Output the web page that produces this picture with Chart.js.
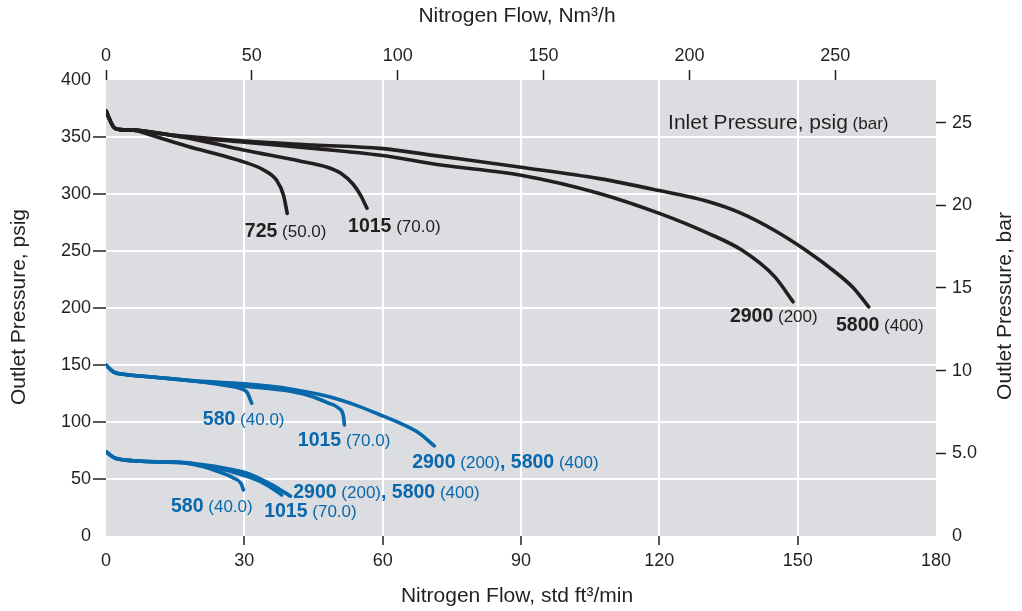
<!DOCTYPE html>
<html><head><meta charset="utf-8">
<script src="https://cdn.jsdelivr.net/npm/chart.js@4.4.0/dist/chart.umd.min.js"></script>
<style>html,body{margin:0;padding:0;background:#fff}</style>
</head><body>
<canvas id="c" width="1022" height="611" style="width:1022px;height:611px;display:block"></canvas>
<script>
// ---- data (x: std ft3/min, y: psig) ----
const blkFlow725  = [0, 1.6, 3, 6, 9.5, 18, 25, 30, 34, 37, 38.5, 39.3];
const blkPsig725  = [373, 359, 356.5, 356, 352, 341.5, 334, 328, 321.5, 312, 299, 283];
const blkFlow1015 = [0, 1.6, 3, 6, 10, 18, 29.8, 42, 48, 51, 53.5, 55.2, 56.6];
const blkPsig1015 = [373, 359, 356.5, 356, 354, 349, 338.5, 329, 323.5, 318, 309, 299, 287.5];
const blkFlow2900 = [0, 1.6, 3, 6, 15, 30, 45, 59.5, 72.6, 90, 107, 120, 130.6, 137.8, 145, 149];
const blkPsig2900 = [373, 359, 356.5, 356, 351, 345.5, 340, 334, 325.5, 316.5, 300.5, 283, 265.5, 251, 227.5, 205.5];
const blkFlow5800 = [0, 1.6, 3, 6, 15, 30, 45, 59.5, 72.6, 90, 107, 120, 130, 137.8, 145, 152, 158, 162, 165.4];
const blkPsig5800 = [373, 359, 356.5, 356, 351.5, 346.5, 343, 340, 333, 323.5, 313.5, 303, 294, 283, 268, 250, 232, 218, 201];

const bluHiFlow580  = [0, 1.6, 3.8, 10, 20, 26, 29, 30.6, 31.6];
const bluHiPsig580  = [150, 144, 141.8, 139.5, 135.5, 132, 129.5, 126, 116.5];
const bluHiFlow1015 = [0, 1.6, 3.8, 10, 20, 30, 40, 45, 48, 50.5, 51.5, 51.7];
const bluHiPsig1015 = [150, 144, 141.8, 139.5, 135.5, 131.5, 127, 122, 117, 112, 105, 97.5];
const bluHiFlow2900 = [0, 1.6, 3.8, 10, 20, 30, 40, 48, 54, 59, 64, 68, 71.2];
const bluHiPsig2900 = [150, 144, 141.8, 139.5, 136, 133.5, 129, 122.5, 115, 107, 98.5, 90, 79];

const bluLoFlow580  = [0, 1.6, 5.9, 12, 17, 21, 24, 27.6, 29.3, 29.8];
const bluLoPsig580  = [74, 69, 66, 65, 64, 61, 57, 51, 46, 40.5];
const bluLoFlow1015 = [0, 1.6, 5.9, 12, 17, 22, 27.6, 33.4, 36, 38.1];
const bluLoPsig1015 = [74, 69, 66, 65, 64.3, 61, 56, 48, 42, 36];
const bluLoFlow2900 = [0, 1.6, 5.9, 12, 17, 22, 27.6, 30.6, 34, 36.4, 40];
const bluLoPsig2900 = [74, 69, 66, 65, 64.5, 62, 58, 55, 49, 44, 35];

// ---- axes ----
const flowTicks = [0, 30, 60, 90, 120, 150, 180];
const nm3Ticks  = [0, 50, 100, 150, 200, 250];
const psigTicks = [0, 50, 100, 150, 200, 250, 300, 350, 400];
const barTicks  = [0, 5, 10, 15, 20, 25];
const flowMax = 180, nm3Max = 284.5, psigMax = 400, barMax = 27.58;

// ---- labels: [x flow, y psig, colour key, segments] ----
const curveLabels = [
  [30.1, 262.3, 'k', [['725','b'],[' (50.0)','s']]],
  [52.5, 266.7, 'k', [['1015','b'],[' (70.0)','s']]],
  [135.3, 187.7, 'k', [['2900','b'],[' (200)','s']]],
  [158.3, 179.8, 'k', [['5800','b'],[' (400)','s']]],
  [121.9, 357.0, 'k', [['Inlet Pressure, psig','t'],[' (bar)','s']]],
  [21.0, 97.4, 'u', [['580','b'],[' (40.0)','s']]],
  [41.6, 78.9, 'u', [['1015','b'],[' (70.0)','s']]],
  [66.4, 59.6, 'u', [['2900','b'],[' (200)','s'],[', 5800','b'],[' (400)','s']]],
  [40.6, 33.3, 'u', [['2900','b'],[' (200)','s'],[', 5800','b'],[' (400)','s']]],
  [14.1, 21.1, 'u', [['580','b'],[' (40.0)','s']]],
  [34.3, 16.7, 'u', [['1015','b'],[' (70.0)','s']]]
];

const BLACK = '#231f20', BLUE = '#0868ac', BG = '#dcdde0';
const FAM = '"Liberation Sans", Arial, Helvetica, sans-serif';

function pts(xs, ys){ return xs.map((x,i)=>({x:x, y:ys[i]})); }
function ds(xs, ys, col){
  return {data: pts(xs, ys), borderColor: col, borderWidth: 3.6, pointRadius: 0,
          cubicInterpolationMode: 'monotone', borderCapStyle: 'round', borderJoinStyle: 'round', fill: false};
}

const bgPlugin = {
  id: 'bg',
  beforeDraw(chart){
    const {ctx, chartArea:a} = chart;
    ctx.save(); ctx.fillStyle = BG;
    ctx.fillRect(a.left, a.top, a.right-a.left, a.bottom-a.top);
    ctx.restore();
  }
};

const textPlugin = {
  id: 'texts',
  afterDraw(chart){
    const ctx = chart.ctx, sx = chart.scales.x, sy = chart.scales.y;
    ctx.save();
    ctx.textBaseline = 'alphabetic'; ctx.textAlign = 'left';
    const fonts = {b: 'bold 19.5px '+FAM, s: '17px '+FAM, t: '21px '+FAM};
    curveLabels.forEach(([fx, fy, c, segs])=>{
      let px = sx.getPixelForValue(fx), py = sy.getPixelForValue(fy);
      ctx.fillStyle = c==='k' ? BLACK : BLUE;
      segs.forEach(([t, f])=>{
        ctx.font = fonts[f];
        ctx.fillText(t, px, py);
        px += ctx.measureText(t).width;
      });
    });
    // axis titles
    ctx.fillStyle = BLACK; ctx.font = '21px '+FAM; ctx.textAlign = 'center'; ctx.textBaseline = 'middle';
    ctx.fillText('Nitrogen Flow, Nm\u00B3/h', 517, 16);
    ctx.fillText('Nitrogen Flow, std ft\u00B3/min', 517, 596);
    ctx.save(); ctx.translate(19, 307); ctx.rotate(-Math.PI/2);
    ctx.fillText('Outlet Pressure, psig', 0, 0); ctx.restore();
    ctx.save(); ctx.translate(1005, 306); ctx.rotate(-Math.PI/2);
    ctx.fillText('Outlet Pressure, bar', 0, 0); ctx.restore();
    ctx.restore();
  }
};

const tickFont = {family: FAM, size: 18};
const edgeHide = (edges, col) => (c) => (c.tick && edges.includes(c.tick.value)) ? 'rgba(0,0,0,0)' : col;

new Chart(document.getElementById('c'), {
  type: 'line',
  data: {
    datasets: [
      ds(blkFlow725, blkPsig725, BLACK),
      ds(blkFlow1015, blkPsig1015, BLACK),
      ds(blkFlow2900, blkPsig2900, BLACK),
      ds(blkFlow5800, blkPsig5800, BLACK),
      ds(bluHiFlow580, bluHiPsig580, BLUE),
      ds(bluHiFlow1015, bluHiPsig1015, BLUE),
      ds(bluHiFlow2900, bluHiPsig2900, BLUE),
      ds(bluLoFlow580, bluLoPsig580, BLUE),
      ds(bluLoFlow1015, bluLoPsig1015, BLUE),
      ds(bluLoFlow2900, bluLoPsig2900, BLUE)
    ]
  },
  options: {
    responsive: false, animation: false, devicePixelRatio: 1,
    layout: {padding: 0},
    plugins: {legend: {display: false}, tooltip: {enabled: false}},
    scales: {
      x: {
        type: 'linear', position: 'bottom', min: 0, max: flowMax,
        afterBuildTicks: s => { s.ticks = flowTicks.map(v=>({value:v})); },
        afterFit: s => { s.height = 75; },
        border: {display: false},
        grid: {color: edgeHide([0,180], '#ffffff'), lineWidth: 2, tickColor: edgeHide([0,180], BLACK), tickWidth: 1.5, tickLength: 9},
        ticks: {color: BLACK, font: tickFont, padding: 5, autoSkip: false, maxRotation: 0}
      },
      x2: {
        type: 'linear', position: 'top', min: 0, max: nm3Max,
        afterBuildTicks: s => { s.ticks = nm3Ticks.map(v=>({value:v})); },
        afterFit: s => { s.height = 80; },
        border: {display: false},
        grid: {drawOnChartArea: false, tickColor: BLACK, tickWidth: 1.5, tickLength: 10},
        ticks: {color: BLACK, font: tickFont, padding: 3, autoSkip: false, maxRotation: 0}
      },
      y: {
        type: 'linear', position: 'left', min: 0, max: psigMax,
        afterBuildTicks: s => { s.ticks = psigTicks.map(v=>({value:v})); },
        afterFit: s => { s.width = 106; },
        border: {display: false},
        grid: {color: edgeHide([0,400], '#ffffff'), lineWidth: 2, tickColor: edgeHide([0,400], BLACK), tickWidth: 1.5, tickLength: 13},
        ticks: {color: BLACK, font: tickFont, padding: 2, autoSkip: false}
      },
      y2: {
        type: 'linear', position: 'right', min: 0, max: barMax,
        afterBuildTicks: s => { s.ticks = barTicks.map(v=>({value:v})); },
        afterFit: s => { s.width = 86; },
        border: {display: false},
        grid: {drawOnChartArea: false, tickColor: edgeHide([0], BLACK), tickWidth: 1.5, tickLength: 10},
        ticks: {color: BLACK, font: tickFont, padding: 6, autoSkip: false,
                callback: v => v === 5 ? '5.0' : String(v)}
      }
    }
  },
  plugins: [bgPlugin, textPlugin]
});
</script>
</body></html>
